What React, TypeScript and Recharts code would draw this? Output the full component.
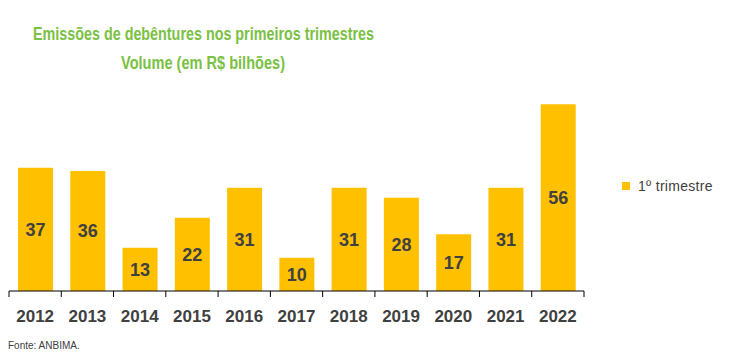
import React from 'react';
import { BarChart, Bar, XAxis, YAxis, LabelList } from 'recharts';

// Emissões de debêntures no 1º trimestre, R$ bilhões
const years = ['2012', '2013', '2014', '2015', '2016', '2017', '2018', '2019', '2020', '2021', '2022'];
const firstQuarter = [37, 36, 13, 22, 31, 10, 31, 28, 17, 31, 56];
const yDomain = [0, 60];

const data = years.map((year, i) => ({ year, value: firstQuarter[i] }));

const GREEN = '#7AC143';
const BAR = '#FFC000';
const TEXT = '#404040';
const FONT = '"Liberation Sans", Arial, sans-serif';

// tick label + boundary tick marks between categories
function YearTick(props: any) {
  const { x, y, payload, index, visibleTicksCount } = props;
  const half = payload && payload.offset ? payload.offset : 26.15;
  const isLast = index === visibleTicksCount - 1;
  return (
    <g>
      <line x1={x - half} x2={x - half} y1={y} y2={y + 6} stroke="#000" strokeWidth={1} />
      {isLast && <line x1={x + half} x2={x + half} y1={y} y2={y + 6} stroke="#000" strokeWidth={1} />}
      <text x={x} y={y + 31} textAnchor="middle" fill={TEXT} fontSize={17} fontWeight="bold" fontFamily={FONT}>
        {payload.value}
      </text>
    </g>
  );
}

export default function App() {
  return (
    <div style={{ position: 'absolute', left: 0, top: 0, width: 750, height: 355, background: '#fff', fontFamily: FONT }}>
      <svg width={750} height={90} style={{ position: 'absolute', left: 0, top: 0 }}>
        <text x={203.5} y={40} textAnchor="middle" fill={GREEN} fontSize={19} fontWeight="bold" fontFamily={FONT}
          textLength={341} lengthAdjust="spacingAndGlyphs">
          Emissões de debêntures nos primeiros trimestres
        </text>
        <text x={203} y={69} textAnchor="middle" fill={GREEN} fontSize={19} fontWeight="bold" fontFamily={FONT}
          textLength={164} lengthAdjust="spacingAndGlyphs">
          Volume (em R$ bilhões)
        </text>
      </svg>
      <div style={{ position: 'absolute', left: 0, top: 0 }}>
        <BarChart width={750} height={355} data={data} margin={{ top: 91, right: 166, left: 9, bottom: 34 }} barSize={35}>
          <YAxis hide domain={yDomain} />
          <XAxis dataKey="year" height={30} tickSize={0} tickMargin={0} tickLine={false}
            axisLine={{ stroke: '#000', strokeWidth: 1 }} tick={<YearTick />} interval={0} />
          <Bar dataKey="value" fill={BAR} isAnimationActive={false}>
            <LabelList dataKey="value" position="center" fill={TEXT} fontSize={18} fontWeight="bold" fontFamily={FONT} />
          </Bar>
        </BarChart>
      </div>
      <div style={{ position: 'absolute', left: 622, top: 178, display: 'flex', alignItems: 'center' }}>
        <span style={{ display: 'inline-block', width: 8, height: 8, background: BAR, marginRight: 8 }} />
        <span style={{ fontSize: 14, color: TEXT, letterSpacing: 0.3 }}>1º trimestre</span>
      </div>
      <div style={{ position: 'absolute', left: 8, top: 340, fontSize: 10, color: TEXT }}>Fonte: ANBIMA.</div>
    </div>
  );
}
